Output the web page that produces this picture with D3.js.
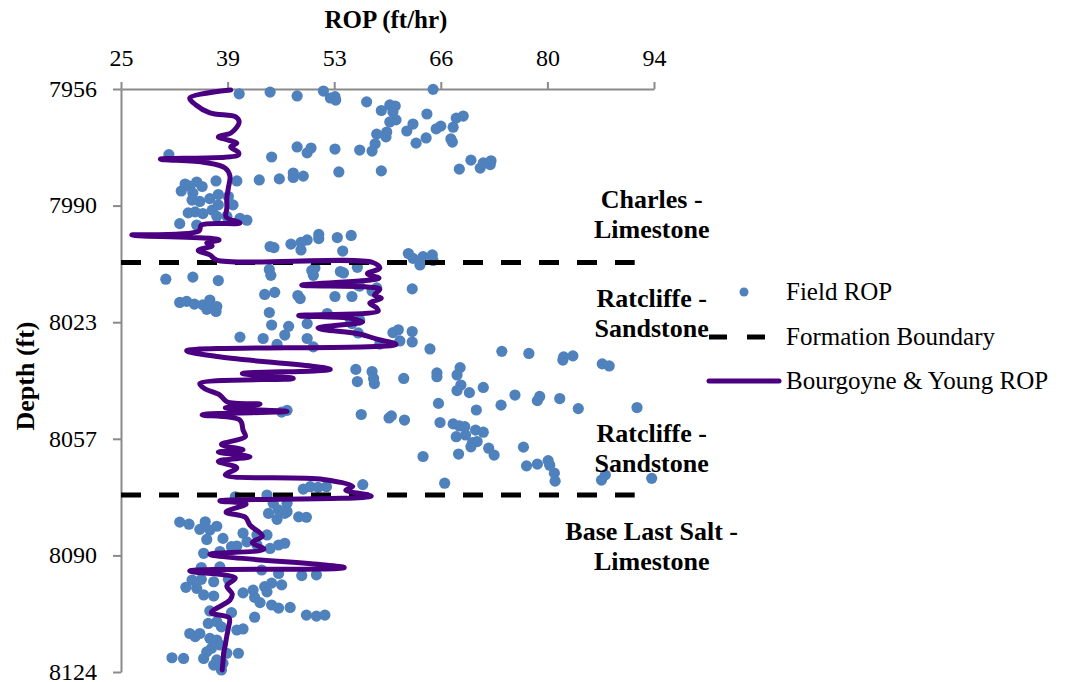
<!DOCTYPE html>
<html>
<head>
<meta charset="utf-8">
<script src="https://cdn.jsdelivr.net/npm/d3@7"></script>
<style>
  html, body { margin: 0; padding: 0; background: #ffffff; }
  svg { display: block; font-family: "Liberation Serif", "Times New Roman", serif; }
</style>
</head>
<body>
<svg id="chart" width="1079" height="682"></svg>
<script>
// Field ROP measurements: [ROP (ft/hr), depth (ft)]
const fieldRopPoints = [
  [40.3,7957.4],[44.3,7956.9],[47.8,7958.0],[51.2,7956.6],[52.1,7958.6],[52.8,7959.2],[52.7,7958.2],[56.8,7959.7],
  [65.4,7956.1],[58.7,7962.2],[59.8,7960.6],[60.5,7960.9],[60.2,7962.6],[60.6,7964.9],[59.8,7965.5],[64.6,7963.2],
  [68.4,7964.4],[69.3,7963.8],[62.8,7966.1],[62.0,7968.1],[65.8,7967.5],[66.4,7966.7],[68.0,7967.0],[58.1,7969.0],
  [59.4,7968.4],[59.3,7969.8],[64.5,7970.1],[63.2,7971.6],[67.7,7970.4],[67.9,7971.3],[57.9,7971.8],[57.5,7973.9],
  [55.9,7973.6],[52.7,7973.3],[47.8,7972.7],[49.6,7973.0],[49.1,7974.4],[44.5,7975.6],[31.2,7974.9],[70.3,7976.5],
  [68.8,7979.1],[71.5,7978.8],[71.9,7977.3],[72.8,7977.8],[72.9,7976.7],[53.2,7979.9],[58.7,7979.6],[40.0,7982.5],
  [42.9,7982.2],[45.5,7981.9],[47.3,7980.2],[47.3,7981.5],[48.6,7981.1],[37.3,7982.5],
  [33.3,7983.4],[32.8,7985.4],[33.9,7984.0],[34.8,7982.8],[35.5,7984.1],[34.3,7986.0],[34.2,7988.0],[35.2,7988.4],
  [36.5,7987.6],[37.6,7986.4],[38.9,7987.0],[39.5,7989.4],[33.7,7991.7],[34.6,7991.4],[35.6,7991.9],[36.8,7990.9],
  [37.4,7992.7],[37.6,7989.4],[32.6,7994.8],[34.8,7995.2],[38.7,7992.7],[40.4,7993.3],[41.3,7993.8],
  [44.3,8001.4],[44.8,8001.7],[47.0,8000.7],[48.3,8000.2],[49.1,7999.5],[50.6,7997.9],[50.6,7999.1],[48.3,8002.4],
  [53.0,7998.8],[54.8,7998.2],[53.7,8002.7],[62.2,8003.4],[62.8,8004.8],[64.1,8004.3],[65.3,8003.8],[65.4,8005.4],
  [63.7,8006.7],
  [30.8,8010.8],[34.3,8010.2],[37.6,8011.2],[32.6,8017.5],[33.5,8017.2],[34.5,8018.0],[35.6,8018.2],[36.5,8016.8],
  [36.1,8019.5],[37.3,8020.1],[36.5,8018.7],[37.4,8018.7],[44.2,8008.0],[44.4,8009.7],[43.6,8015.2],[44.9,8014.6],
  [44.2,8020.4],[44.5,8024.0],[40.4,8027.5],[43.4,8027.9],[46.2,8026.9],[46.7,8024.4],[45.2,8029.6],[47.9,8015.5],
  [48.2,8016.4],[49.1,8023.6],[49.1,8027.9],[49.9,8030.3],[49.7,8008.3],[49.9,8009.7],[50.1,8007.6],[53.4,8008.6],
  [53.8,8009.0],[55.6,8007.4],[52.7,8015.8],[54.9,8015.8],[55.6,8012.5],[55.9,8012.8],[51.7,8020.7],[54.6,8022.0],
  [55.9,8022.6],[54.9,8023.6],[58.1,8013.3],[57.5,8014.2],[58.5,8029.5],[55.7,8026.3],[60.2,8026.2],[60.9,8025.4],
  [61.1,8028.6],[62.7,8025.9],[62.7,8028.9],[62.7,8013.6],[65.0,8030.9],[74.3,8031.6],[77.8,8032.2],[82.2,8034.1],
  [82.3,8033.2],[83.5,8032.9],[87.3,8035.2],[88.2,8035.8],[55.4,8036.8],[57.5,8037.4],[57.7,8039.4],[57.8,8040.9],
  [55.6,8040.3],[61.6,8039.4],[65.9,8037.8],[65.9,8038.9],[68.9,8036.3],[68.5,8038.4],[69.0,8041.3],[68.5,8042.9],
  [70.1,8043.5],[71.9,8042.0],[76.0,8044.2],[74.2,8047.1],[78.9,8045.8],[79.2,8044.6],[81.8,8045.2],[84.2,8048.1],
  [91.8,8047.8],[66.1,8046.6],[71.0,8048.5],[56.1,8049.8],[59.7,8050.8],[60.0,8050.2],[61.7,8051.4],[66.3,8052.1],
  [68.0,8052.5],[68.8,8053.1],[69.5,8053.3],[70.9,8054.3],[71.9,8054.9],[68.4,8056.2],[69.6,8055.7],[70.5,8057.9],
  [71.1,8057.6],[70.3,8059.1],[72.6,8059.5],[73.3,8061.5],[68.7,8061.2],[64.1,8061.9],[77.1,8059.2],[77.5,8064.6],
  [78.9,8064.1],[80.3,8063.1],[80.5,8064.4],[81.1,8066.7],[81.2,8069.0],[87.2,8068.7],[87.7,8067.2],[93.7,8068.2],
  [66.9,8069.6],[56.3,8070.0],[45.8,8049.1],[46.5,8048.6],
  [48.6,8071.3],[49.5,8070.6],[50.5,8070.8],[51.6,8070.6],[39.8,8073.5],[43.9,8073.0],[44.7,8075.4],[46.5,8075.4],
  [45.4,8077.3],[46.5,8077.8],[44.1,8078.3],[45.2,8080.0],[46.2,8078.3],[48.0,8079.3],[49.0,8079.4],[32.6,8080.8],
  [33.8,8081.4],[35.9,8080.7],[35.2,8082.9],[36.5,8083.1],[37.4,8082.0],[40.8,8084.0],[42.6,8084.5],[43.9,8084.5],
  [38.2,8085.5],[36.1,8085.8],[41.3,8086.5],[40.0,8087.7],[39.3,8087.9],[42.6,8087.4],[44.3,8088.4],[45.4,8087.4],
  [46.2,8086.9],[35.7,8089.8],[37.8,8089.3],[35.4,8093.9],[37.8,8093.7],[43.2,8094.6],[45.4,8095.6],[48.4,8096.2],
  [50.3,8096.0],[34.2,8097.5],[35.4,8097.3],[37.0,8098.0],[33.4,8099.6],[34.8,8099.9],[35.7,8101.8],[37.0,8102.1],
  [38.9,8097.3],[40.8,8101.2],[42.1,8100.4],[43.6,8099.4],[43.9,8100.9],[44.5,8098.4],[45.8,8098.9],[42.3,8102.5],
  [43.0,8104.0],[44.5,8104.7],[45.4,8105.6],[46.9,8105.4],[49.0,8107.6],[50.3,8107.9],[51.4,8107.6],[36.5,8106.4],
  [39.3,8106.9],[42.3,8108.2],[36.3,8110.0],[37.4,8109.5],[38.0,8111.0],[40.0,8111.9],[40.8,8111.6],[33.9,8112.9],
  [34.6,8113.8],[35.2,8112.9],[36.5,8114.3],[37.4,8114.8],[36.7,8117.2],[36.1,8118.2],[37.8,8116.2],[38.7,8118.6],
  [40.2,8118.6],[35.7,8120.1],[37.4,8120.5],[38.2,8121.5],[37.0,8122.0],[38.0,8123.4],[31.6,8119.9],[33.1,8120.1]
];

// Bourgoyne & Young model ROP: [ROP (ft/hr), depth (ft)]
const byRopPoints = [
  [39.2,7956.3],[33.9,7958.6],[34.7,7960.6],[36.5,7962.9],[39.9,7964.1],[40.3,7965.5],[40.0,7967.0],[39.2,7968.7],
  [37.6,7969.8],[38.9,7970.7],[40.0,7971.6],[39.2,7972.7],[40.2,7974.2],[40.2,7975.0],[30.1,7976.2],[35.9,7977.2],
  [38.5,7978.8],[39.1,7981.1],[38.9,7984.5],[38.7,7987.4],[38.7,7990.3],[38.6,7992.9],[40.4,7994.6],[35.4,7995.2],
  [35.1,7996.9],[26.4,7998.1],[36.8,7999.1],[37.7,7999.5],[36.1,8000.4],[36.8,8001.2],[35.0,8002.5],[36.5,8003.8],
  [37.4,8005.3],[57.6,8006.0],[58.5,8007.6],[56.9,8009.2],[58.4,8010.5],[48.4,8012.5],[56.6,8013.0],[58.5,8013.7],
  [57.8,8015.4],[58.7,8016.3],[57.2,8017.7],[58.1,8019.1],[58.3,8020.0],[48.0,8021.3],[54.7,8022.1],[56.3,8023.1],
  [50.5,8024.9],[55.9,8026.6],[58.0,8028.0],[60.6,8029.6],[33.5,8031.4],[37.4,8033.1],[52.1,8036.8],[40.7,8038.0],
  [47.3,8039.4],[35.2,8040.9],[35.8,8042.3],[37.8,8044.2],[38.7,8046.1],[43.0,8046.8],[38.5,8047.9],[46.5,8048.9],
  [35.5,8049.9],[40.4,8051.4],[40.8,8054.3],[41.1,8056.2],[38.0,8058.4],[40.8,8060.0],[37.6,8060.6],[41.7,8062.0],
  [37.6,8063.3],[40.0,8065.2],[38.5,8067.2],[51.2,8068.5],[55.0,8070.5],[54.1,8071.6],[57.4,8073.3],[37.8,8074.7],
  [41.2,8075.6],[38.6,8077.9],[41.1,8079.4],[41.7,8081.7],[43.3,8084.8],[42.0,8086.7],[43.5,8088.6],[36.5,8090.1],
  [53.9,8093.9],[33.9,8094.9],[39.8,8096.9],[38.7,8099.2],[39.4,8101.5],[39.1,8103.3],[36.7,8106.9],[39.0,8108.4],
  [38.9,8111.3],[38.7,8113.6],[38.5,8116.2],[38.3,8118.5],[38.2,8121.1],[38.1,8123.4]
];

// Formation boundaries (depth, ft) and the ROP span they are drawn across
const boundaryDepths = [8006, 8073];
const boundaryRopSpan = [25, 91.5];

// Formation names, with the depth of the first text line
const formationNames = [
  ["Charles -", "Limestone"],
  ["Ratcliffe -", "Sandstone"],
  ["Ratcliffe -", "Sandstone"],
  ["Base Last Salt -", "Limestone"]
];
const formationDepths = [7990.4, 8018.7, 8057.6, 8086.0];
const formationRop = 93.7;

// Axis ticks
const ropTicks = [25, 38.8, 52.6, 66.4, 80.2, 94];
const ropTickLabels = ["25", "39", "53", "66", "80", "94"];
const depthTicks = [7956, 7989.6, 8023.2, 8056.8, 8090.4, 8124];
const depthTickLabels = ["7956", "7990", "8023", "8057", "8090", "8124"];

const seriesNames = ["Field ROP", "Formation Boundary", "Bourgoyne & Young ROP"];

// ---- drawing ----
const svg = d3.select("#chart");
const COLORS = { field: "#4f81bd", boundary: "#000000", model: "#4b0082", axis: "#8a8a8a" };
const FONT = '"Liberation Serif", "Times New Roman", serif';

const x = d3.scaleLinear().domain([25, 94]).range([121, 654]);
const y = d3.scaleLinear().domain([7956, 8124]).range([89, 672]);

svg.append("rect").attr("width", 1079).attr("height", 682).attr("fill", "#fff");

// axes
const xAxis = d3.axisTop(x)
  .tickValues(ropTicks)
  .tickFormat((d, i) => ropTickLabels[i])
  .tickSizeInner(7).tickSizeOuter(0).tickPadding(16);
const yAxis = d3.axisLeft(y)
  .tickValues(depthTicks)
  .tickFormat((d, i) => depthTickLabels[i])
  .tickSizeInner(8).tickSizeOuter(0).tickPadding(16);

const gx = svg.append("g").attr("transform", `translate(0,${y(7956)})`).call(xAxis);
const gy = svg.append("g").attr("transform", `translate(${x(25)},0)`).call(yAxis);
[gx, gy].forEach(g => {
  g.select(".domain").attr("stroke", COLORS.axis).attr("stroke-width", 2);
  g.selectAll(".tick line").attr("stroke", COLORS.axis).attr("stroke-width", 2);
  g.selectAll(".tick text")
    .attr("fill", "#000")
    .style("font-family", FONT)
    .style("font-size", "24px");
});
gy.selectAll(".tick text").attr("dy", "0.3em");

// axis titles
svg.append("text")
  .attr("x", 386).attr("y", 28)
  .attr("text-anchor", "middle")
  .style("font-weight", "bold").style("font-size", "25px")
  .text("ROP (ft/hr)");
svg.append("text")
  .attr("transform", "translate(34,376) rotate(-90)")
  .attr("text-anchor", "middle")
  .style("font-weight", "bold").style("font-size", "26px")
  .text("Depth (ft)");

// field ROP points
svg.append("g")
  .selectAll("circle")
  .data(fieldRopPoints)
  .join("circle")
  .attr("cx", d => x(d[0]))
  .attr("cy", d => y(d[1]))
  .attr("r", 5.6)
  .attr("fill", COLORS.field);

// formation boundaries
svg.append("g")
  .selectAll("line")
  .data(boundaryDepths)
  .join("line")
  .attr("x1", x(boundaryRopSpan[0]))
  .attr("x2", x(boundaryRopSpan[1]))
  .attr("y1", d => y(d))
  .attr("y2", d => y(d))
  .attr("stroke", COLORS.boundary)
  .attr("stroke-width", 5)
  .attr("stroke-dasharray", "20,18");

// model ROP curve
const modelLine = d3.line()
  .x(d => x(d[0]))
  .y(d => y(d[1]))
  .curve(d3.curveCatmullRom.alpha(0.5));
svg.append("path")
  .datum(byRopPoints)
  .attr("d", modelLine)
  .attr("fill", "none")
  .attr("stroke", COLORS.model)
  .attr("stroke-width", 5)
  .attr("stroke-linejoin", "round")
  .attr("stroke-linecap", "round");

// formation labels
const labels = svg.append("g")
  .style("font-weight", "bold").style("font-size", "26px")
  .attr("text-anchor", "middle");
formationNames.forEach((lines, i) => {
  lines.forEach((t, j) => {
    labels.append("text")
      .attr("x", x(formationRop))
      .attr("y", y(formationDepths[i]) + j * 30)
      .text(t);
  });
});

// legend
const legend = svg.append("g").style("font-size", "25px");
const legendY = [292, 337, 381];
legend.append("circle").attr("cx", 744).attr("cy", legendY[0]).attr("r", 4.5).attr("fill", COLORS.field);
legend.append("line")
  .attr("x1", 709).attr("x2", 768).attr("y1", legendY[1]).attr("y2", legendY[1])
  .attr("stroke", COLORS.boundary).attr("stroke-width", 5).attr("stroke-dasharray", "18,20");
legend.append("line")
  .attr("x1", 709).attr("x2", 779).attr("y1", legendY[2]).attr("y2", legendY[2])
  .attr("stroke", COLORS.model).attr("stroke-width", 5).attr("stroke-linecap", "round");
seriesNames.forEach((name, i) => {
  legend.append("text")
    .attr("x", 786).attr("y", legendY[i]).attr("dy", "0.33em")
    .text(name);
});
</script>
</body>
</html>
